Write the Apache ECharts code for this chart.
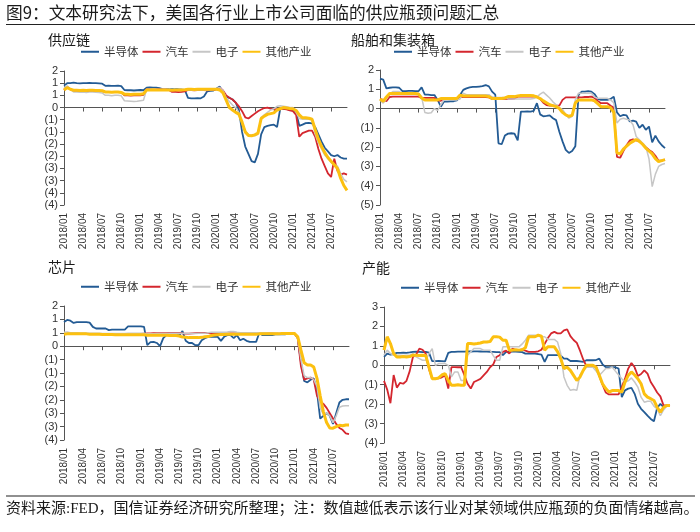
<!DOCTYPE html>
<html><head><meta charset="utf-8">
<script src="https://cdn.jsdelivr.net/npm/echarts@6/dist/echarts.min.js"></script>
<style>html,body{margin:0;padding:0;background:#fff}#c{width:700px;height:532px}</style>
</head><body><div id="c"></div>
<script>
const seriesNames = ['半导体','汽车','电子','其他产业'];
const colors = ['#235b94','#d4262e','#c6c6c6','#fcc010'];
const lineWidths = [1.8,1.8,1.5,3];
const mainTitle = '图9：文本研究法下，美国各行业上市公司面临的供应瓶颈问题汇总';
const sourceText = '资料来源:FED，国信证券经济研究所整理；注：数值越低表示该行业对某领域供应瓶颈的负面情绪越高。';
const panelTitles = ['供应链','船舶和集装箱','芯片','产能'];

// semi-monthly categories 2018/01/01 .. 2021/09/16
const categories = [];
for (let y = 2018; y <= 2021; y++) {
  for (let m = 1; m <= 12; m++) {
    if (y === 2021 && m > 9) break;
    const mm = m < 10 ? '0' + m : '' + m;
    categories.push(y + '/' + mm + '/01', y + '/' + mm + '/16');
  }
}

// 供应链
const sc_semi = [0.9,1.0,1.0,1.02,1.0,0.99,1.0,1.0,1.01,1.0,
 1.0,0.99,0.98,0.89,0.9,0.89,0.89,0.9,0.88,0.72,
 0.71,0.71,0.7,0.71,0.72,0.71,0.82,0.83,0.82,0.82,
 0.8,0.76,0.75,0.75,0.76,0.75,0.75,0.74,0.72,0.4,
 0.38,0.38,0.39,0.38,0.45,0.66,0.68,0.7,0.78,0.86,
 0.6,0.45,0.4,0.33,0.2,-0.1,-1.0,-1.6,-1.9,-2.2,
 -2.25,-1.9,-1.1,-0.8,-0.75,-0.72,-0.7,-0.8,-0.05,-0.04,
 -0.06,-0.1,-0.1,-0.2,-0.75,-0.7,-0.64,-0.63,-0.65,-0.8,
 -1.1,-1.4,-1.65,-1.8,-1.95,-2.0,-1.95,-2.05,-2.1,-2.1];
const sc_auto = [0.72,0.85,0.75,0.68,0.68,0.67,0.68,0.66,0.68,0.68,
 0.67,0.68,0.67,0.64,0.64,0.63,0.64,0.64,0.62,0.5,
 0.5,0.49,0.5,0.5,0.5,0.52,0.75,0.75,0.74,0.75,
 0.75,0.74,0.75,0.72,0.64,0.64,0.63,0.64,0.66,0.72,
 0.72,0.71,0.72,0.72,0.72,0.71,0.72,0.73,0.75,0.82,
 0.7,0.5,0.4,0.33,0.2,0.05,-0.15,-0.4,-0.45,-0.35,
 -0.25,-0.15,-0.08,-0.02,0.0,-0.05,-0.07,-0.07,-0.05,-0.05,
 -0.08,-0.12,-0.15,-0.3,-1.2,-1.05,-1.0,-0.95,-0.95,-1.2,
 -1.7,-2.1,-2.4,-2.7,-2.85,-2.1,-2.6,-2.75,-2.7,-2.75];
const sc_elec = [0.82,0.89,0.75,0.64,0.64,0.63,0.64,0.62,0.64,0.64,
 0.63,0.62,0.6,0.5,0.5,0.48,0.5,0.5,0.48,0.28,
 0.27,0.26,0.25,0.26,0.28,0.3,0.75,0.75,0.76,0.75,
 0.74,0.75,0.75,0.74,0.72,0.73,0.74,0.75,0.74,0.72,
 0.72,0.71,0.72,0.72,0.72,0.72,0.73,0.74,0.78,0.82,
 0.7,0.4,0.25,0.1,0.0,-0.2,-0.6,-0.95,-1.1,-1.15,
 -1.16,-1.1,-0.4,-0.3,-0.2,-0.1,-0.05,0.05,0.07,0.05,
 0.03,0.0,0.0,-0.2,-0.45,-0.48,-0.48,-0.48,-0.5,-1.1,
 -1.45,-1.7,-1.95,-2.1,-2.25,-2.35,-2.4,-2.7,-2.95,-3.05];
const sc_other = [0.72,0.82,0.75,0.71,0.71,0.7,0.71,0.7,0.71,0.71,
 0.7,0.7,0.69,0.64,0.64,0.63,0.64,0.64,0.62,0.55,
 0.55,0.54,0.55,0.55,0.55,0.57,0.72,0.72,0.73,0.72,
 0.72,0.72,0.72,0.72,0.71,0.72,0.72,0.72,0.73,0.75,
 0.75,0.74,0.75,0.75,0.75,0.75,0.75,0.75,0.75,0.72,
 0.6,0.3,0.0,-0.1,-0.2,-0.27,-0.6,-1.0,-1.15,-1.16,
 -1.12,-1.05,-0.45,-0.35,-0.28,-0.25,-0.22,-0.1,-0.05,0.0,
 -0.02,-0.04,-0.05,-0.12,-0.3,-0.42,-0.42,-0.44,-0.48,-0.9,
 -1.3,-1.6,-1.85,-2.05,-2.2,-2.35,-2.5,-2.9,-3.2,-3.4];

// 船舶和集装箱
const sh_semi = [1.55,1.5,1.05,1.08,1.1,1.1,1.08,0.9,0.9,0.92,
 0.92,0.9,0.9,1.1,0.72,0.72,0.7,0.7,0.45,0.1,
 0.36,0.36,0.38,0.38,0.42,0.7,0.97,1.05,1.1,1.12,
 1.12,1.14,1.16,1.22,1.15,0.88,0.72,-1.8,-1.85,-1.4,
 -1.3,-1.28,-1.3,-1.65,-0.16,-0.16,-0.15,-0.16,-0.12,0.28,
 -0.3,-0.4,-0.38,-0.35,-0.5,-0.6,-1.2,-1.7,-2.14,-2.3,
 -2.2,-1.95,0.72,0.88,0.88,0.9,0.88,0.75,0.5,0.45,
 0.45,0.45,0.5,0.62,-0.2,-0.4,-0.33,-0.35,-0.67,-0.62,
 -0.68,-1.0,-0.84,-1.1,-0.93,-1.75,-1.4,-1.7,-1.9,-2.05];
const sh_auto = [0.5,0.45,0.38,0.6,0.62,0.62,0.62,0.62,0.62,0.62,
 0.62,0.62,0.62,0.55,0.55,0.55,0.55,0.55,0.42,0.4,
 0.53,0.53,0.53,0.53,0.53,0.6,0.6,0.6,0.6,0.6,
 0.6,0.6,0.6,0.6,0.58,0.5,0.5,0.5,0.5,0.5,
 0.5,0.5,0.52,0.62,0.62,0.62,0.62,0.62,0.62,0.62,
 0.5,0.3,0.18,0.15,0.15,0.15,0.15,0.45,0.58,0.58,
 0.58,0.58,0.58,0.58,0.6,0.6,0.62,0.55,0.4,0.28,
 0.28,0.28,0.15,0.05,-2.5,-2.55,-2.2,-1.9,-1.65,-1.6,
 -1.65,-1.7,-1.85,-2.0,-2.15,-2.25,-2.45,-2.7,-2.7,-2.65];
const sh_elec = [0.45,0.28,0.5,0.75,0.88,0.88,0.88,0.8,0.8,0.8,
 0.8,0.8,0.8,0.6,-0.2,-0.24,-0.22,0.0,-0.1,0.2,
 0.45,0.45,0.45,0.45,0.45,0.5,0.8,0.72,0.72,0.72,
 0.72,0.72,0.72,0.72,0.72,0.6,0.57,0.57,0.57,0.57,
 0.5,0.5,0.5,0.5,0.5,0.5,0.5,0.5,0.52,0.6,
 0.75,0.85,0.7,0.55,0.35,0.2,0.05,-0.05,-0.3,-0.5,
 -0.4,0.45,0.8,0.8,0.8,0.8,0.8,0.6,0.53,0.53,
 0.53,0.53,0.45,0.3,-0.75,-0.55,-0.5,-0.55,-0.6,-0.84,
 -1.45,-1.62,-1.79,-1.97,-2.6,-4.05,-3.4,-3.0,-2.9,-2.85];
const sh_other = [0.5,0.38,0.6,0.78,0.78,0.78,0.78,0.78,0.78,0.78,
 0.78,0.78,0.76,0.55,0.45,0.45,0.45,0.45,0.45,0.52,
 0.52,0.52,0.52,0.52,0.52,0.7,0.65,0.65,0.65,0.65,
 0.65,0.65,0.65,0.65,0.62,0.52,0.52,0.52,0.52,0.55,
 0.62,0.62,0.62,0.65,0.68,0.68,0.68,0.68,0.66,0.6,
 0.52,0.4,0.3,0.2,0.15,0.1,0.0,-0.2,-0.33,-0.4,
 -0.35,0.3,0.45,0.45,0.45,0.45,0.45,0.4,0.25,0.1,
 0.1,0.1,0.05,-0.2,-2.3,-2.35,-2.1,-1.95,-1.8,-1.7,
 -1.6,-1.7,-1.85,-2.05,-2.2,-2.35,-2.6,-2.75,-2.7,-2.65];

// 芯片
const cp_semi = [0.9,0.98,0.95,0.87,0.9,0.9,0.9,0.9,0.88,0.72,
 0.66,0.66,0.66,0.66,0.6,0.62,0.62,0.62,0.62,0.62,
 0.74,0.74,0.74,0.74,0.74,0.72,0.04,0.15,0.16,0.12,
 0.0,0.3,0.41,0.41,0.41,0.41,0.41,0.57,0.2,0.12,
 0.12,0.04,0.04,0.22,0.3,0.35,0.35,0.35,0.35,0.2,
 0.35,0.41,0.41,0.3,0.41,0.22,0.28,0.2,0.16,0.16,
 0.16,0.5,0.41,0.41,0.41,0.41,0.44,0.44,0.44,0.44,
 0.47,0.47,0.47,0.3,-0.6,-1.3,-1.35,-1.25,-1.2,-1.7,
 -2.7,-2.6,-2.5,-2.6,-2.9,-2.5,-2.1,-2.0,-1.98,-1.98];
const cp_auto = [0.47,0.48,0.48,0.47,0.47,0.46,0.46,0.46,0.45,0.45,
 0.45,0.45,0.45,0.45,0.44,0.44,0.44,0.44,0.44,0.45,
 0.45,0.45,0.45,0.45,0.46,0.47,0.48,0.48,0.49,0.49,
 0.49,0.49,0.49,0.5,0.5,0.5,0.5,0.48,0.47,0.47,
 0.48,0.49,0.5,0.5,0.5,0.5,0.48,0.47,0.47,0.47,
 0.47,0.47,0.48,0.48,0.48,0.48,0.48,0.48,0.48,0.48,
 0.48,0.48,0.48,0.48,0.48,0.48,0.47,0.47,0.47,0.47,
 0.48,0.48,0.48,0.3,-0.75,-1.25,-1.2,-1.17,-1.25,-1.85,
 -2.05,-2.15,-2.3,-2.5,-2.7,-2.9,-3.05,-3.12,-3.25,-3.28];
const cp_elec = [0.52,0.53,0.5,0.5,0.5,0.49,0.49,0.49,0.48,0.48,
 0.48,0.48,0.47,0.47,0.47,0.47,0.47,0.47,0.47,0.47,
 0.48,0.48,0.48,0.48,0.48,0.48,0.46,0.46,0.46,0.47,
 0.47,0.47,0.47,0.48,0.48,0.48,0.48,0.48,0.47,0.47,
 0.47,0.47,0.48,0.48,0.48,0.5,0.52,0.52,0.52,0.52,
 0.52,0.53,0.55,0.55,0.52,0.5,0.5,0.5,0.5,0.5,
 0.5,0.5,0.5,0.5,0.48,0.48,0.48,0.48,0.48,0.48,
 0.48,0.48,0.48,0.3,-0.5,-1.1,-1.17,-1.17,-1.25,-1.5,
 -2.3,-2.55,-2.5,-2.6,-2.85,-2.6,-2.28,-2.23,-2.22,-2.22];
const cp_other = [0.45,0.46,0.46,0.46,0.46,0.46,0.46,0.46,0.45,0.45,
 0.45,0.45,0.44,0.44,0.44,0.44,0.43,0.43,0.43,0.43,
 0.43,0.43,0.43,0.43,0.43,0.43,0.41,0.41,0.41,0.41,
 0.41,0.41,0.41,0.4,0.4,0.4,0.38,0.34,0.33,0.32,
 0.32,0.32,0.32,0.33,0.35,0.36,0.4,0.42,0.43,0.44,
 0.44,0.45,0.45,0.45,0.45,0.45,0.45,0.45,0.45,0.45,
 0.45,0.46,0.46,0.46,0.46,0.46,0.46,0.46,0.47,0.47,
 0.47,0.47,0.47,0.35,-0.15,-0.62,-0.7,-0.7,-0.78,-1.2,
 -1.85,-2.45,-2.85,-3.05,-3.06,-3.0,-2.95,-2.97,-2.94,-2.94];

// 产能
const cn_semi = [0.43,0.6,0.55,0.58,0.64,0.64,0.65,0.64,0.66,0.69,
 0.7,0.69,0.68,0.69,0.65,0.21,0.21,0.22,0.21,0.2,
 0.64,0.69,0.69,0.7,0.7,0.7,0.71,0.71,0.72,0.72,
 0.71,0.7,0.7,0.69,0.69,0.68,0.68,0.52,0.69,0.69,
 0.7,0.7,0.69,0.68,0.6,0.6,0.6,0.6,0.58,0.55,
 0.17,0.52,0.52,0.52,0.52,0.5,0.34,0.34,0.22,0.22,
 0.22,0.2,0.18,0.26,0.26,0.26,0.27,0.34,0.05,-0.09,
 -0.09,-0.09,-0.1,-0.17,-1.64,-1.29,-1.2,-1.16,-1.47,-1.98,
 -2.24,-2.41,-2.59,-2.76,-2.88,-2.2,-1.98,-2.16,-2.07,-2.07];
const cn_auto = [-0.8,-1.25,-1.95,-0.5,-1.15,-0.9,-0.95,-0.8,-0.3,0.43,
 0.55,0.86,0.8,0.6,-0.2,-0.69,-0.69,-0.67,-0.62,-0.52,
 -1.2,-0.09,-0.09,-0.1,-0.09,-0.5,-0.95,-1.2,-0.86,-0.78,
 -0.7,-0.52,-0.34,-0.1,0.05,0.43,0.52,0.69,0.75,0.6,
 0.86,0.78,0.78,0.82,0.75,0.69,0.69,0.69,0.72,0.8,
 1.1,1.4,1.64,1.72,1.64,1.64,1.8,1.85,1.5,1.3,
 1.15,0.75,0.3,-0.05,0.0,-0.05,-0.05,-0.55,-1.0,-1.4,
 -1.5,-1.5,-1.5,-1.5,-1.12,-0.69,-0.17,0.12,-0.1,-0.55,
 -0.45,-0.26,-0.43,-0.86,-1.12,-1.4,-1.6,-2.07,-2.07,-2.05];
const cn_elec = [0.52,0.78,0.6,0.52,0.52,0.52,0.5,0.52,0.52,0.6,
 0.43,0.34,0.26,0.26,0.6,0.86,0.0,0.09,0.09,0.09,
 0.0,-0.6,-0.34,-0.34,-0.78,-0.78,0.52,0.7,0.86,0.86,
 0.86,0.78,0.78,0.78,0.5,0.26,0.26,0.95,0.95,0.95,
 0.95,0.95,0.95,1.1,1.29,1.55,1.55,1.55,1.5,1.47,
 1.47,1.33,1.33,1.33,1.2,0.6,-0.6,-1.03,-1.29,-1.25,
 -1.29,-0.5,-0.26,-0.1,-0.1,-0.1,-0.3,-0.52,-0.35,-0.17,
 -0.17,-0.09,-0.3,-0.5,-0.69,-0.86,-0.8,-0.65,-0.86,-1.12,
 -1.64,-1.9,-1.85,-1.85,-2.1,-2.24,-2.59,-2.3,-2.1,-2.1];
const cn_other = [0.78,1.47,1.12,0.6,0.43,0.43,0.45,0.43,0.45,0.52,
 0.52,0.5,0.52,0.5,-0.09,-0.69,-0.69,-0.65,-0.5,-0.43,
 -0.78,-1.03,-1.03,-1.0,-1.03,-1.03,1.12,1.12,1.1,1.12,
 1.15,1.2,1.2,1.22,1.47,1.47,1.45,1.29,1.29,0.78,
 0.78,0.8,0.78,0.8,0.9,1.47,1.47,1.47,1.55,1.5,
 0.78,0.95,0.95,0.95,0.7,0.34,-0.17,-0.1,-0.26,-0.52,
 -0.78,-0.6,-0.26,0.0,0.0,0.0,-0.1,-0.52,-0.95,-1.2,
 -1.38,-1.3,-1.3,-1.3,-1.38,-0.86,-0.52,-0.34,-0.5,-0.69,
 -0.95,-1.47,-1.64,-1.72,-1.81,-2.16,-2.41,-2.16,-2.07,-2.07];

const panelData = [
  [sc_semi, sc_auto, sc_elec, sc_other],
  [sh_semi, sh_auto, sh_elec, sh_other],
  [cp_semi, cp_auto, cp_elec, cp_other],
  [cn_semi, cn_auto, cn_elec, cn_other]
];
const yRanges = [[-4, 1.5, 0.5], [-5, 2, 1], [-3.5, 1.5, 0.5], [-4, 3, 1]];

// layout
const layout = [
  {grid:{left:64, top:71, width:283, height:134}, title:{left:48, top:33}, legend:{left:80, top:46}},
  {grid:{left:380, top:70, width:285, height:135}, title:{left:351, top:33}, legend:{left:393, top:46}},
  {grid:{left:64, top:306, width:285, height:134}, title:{left:48, top:260}, legend:{left:80, top:281}},
  {grid:{left:384, top:307, width:286, height:136}, title:{left:362, top:261}, legend:{left:400, top:282}}
];

const FONT = "'Liberation Sans', 'Noto Sans CJK SC', sans-serif";
const CJK = "'Noto Sans CJK SC', 'Liberation Sans', sans-serif";
const tickEvery = function (idx) { return idx % 6 === 0; };
function fmtY(v) {
  if (Math.abs(v) < 1e-9) return '0';
  const r = Math.round(Math.abs(v) + 1e-9);
  return v < 0 ? '(' + r + ')' : '' + r;
}

const grids = [], xAxes = [], yAxes = [], series = [], legends = [];
const titles = [
  {text: mainTitle, left: 6, top: 4, padding: 0, textStyle: {fontSize: 16.7, fontWeight: 'normal', color: '#1a1a1a', fontFamily: CJK}},
  {text: sourceText, left: 6, top: 502, padding: 0, textStyle: {fontSize: 15, fontWeight: 'normal', color: '#1a1a1a', fontFamily: "'Liberation Serif', 'Noto Sans CJK SC', serif"}}
];

layout.forEach(function (L, k) {
  grids.push(Object.assign({outerBoundsMode: 'none', containLabel: false}, L.grid));
  titles.push({text: panelTitles[k], left: L.title.left, top: L.title.top, padding: 0,
    textStyle: {fontSize: 14, fontWeight: 'normal', color: '#1a1a1a', fontFamily: CJK}});
  legends.push({left: L.legend.left, top: L.legend.top, padding: 0, itemWidth: 18, itemHeight: 10, itemGap: 3,
    data: seriesNames, selectedMode: false,
    itemStyle: {opacity: 0},
    textStyle: {fontSize: 11.5, color: '#333', fontFamily: CJK}});
  xAxes.push({type: 'category', gridIndex: k, data: categories, boundaryGap: false,
    axisLine: {show: true, onZero: true, lineStyle: {color: '#555', width: 1}},
    axisTick: {show: true, interval: tickEvery, length: 4, lineStyle: {color: '#555'}},
    axisLabel: {show: false}, splitLine: {show: false}});
  xAxes.push({type: 'category', gridIndex: k, data: categories, boundaryGap: false, position: 'bottom',
    axisLine: {show: false, onZero: false}, axisTick: {show: false}, splitLine: {show: false},
    axisLabel: {show: true, interval: tickEvery, rotate: 90, margin: 8, fontSize: 10, color: '#333', fontFamily: FONT,
      formatter: function (v) { return v.slice(0, 7); }}});
  const yr = yRanges[k];
  yAxes.push({type: 'value', gridIndex: k, min: yr[0], max: yr[1], interval: yr[2],
    axisLine: {show: true, onZero: false, lineStyle: {color: '#555', width: 1}},
    axisTick: {show: true, length: 4, lineStyle: {color: '#555'}},
    splitLine: {show: false},
    axisLabel: {formatter: fmtY, fontSize: 11, color: '#333', margin: 6, fontFamily: FONT}});
  panelData[k].forEach(function (arr, s) {
    series.push({type: 'line', name: seriesNames[s], xAxisIndex: 2 * k, yAxisIndex: k, data: arr,
      symbol: 'none', showSymbol: false, smooth: false, animation: false,
      lineStyle: {color: colors[s], width: lineWidths[s]}, itemStyle: {color: colors[s]},
      emphasis: {disabled: true}, z: 2 + s});
  });
});

const chart = echarts.init(document.getElementById('c'), null, {renderer: 'canvas', width: 700, height: 532});
chart.setOption({
  animation: false,
  backgroundColor: '#fff',
  textStyle: {fontFamily: FONT},
  title: titles,
  legend: legends,
  grid: grids,
  xAxis: xAxes,
  yAxis: yAxes,
  series: series,
  graphic: [
    {type: 'line', shape: {x1: 6, y1: 24.5, x2: 695, y2: 24.5}, style: {stroke: '#222', lineWidth: 1.2}, silent: true},
    {type: 'line', shape: {x1: 6, y1: 496, x2: 695, y2: 496}, style: {stroke: '#222', lineWidth: 1.2}, silent: true}
  ]
});
</script></body></html>
